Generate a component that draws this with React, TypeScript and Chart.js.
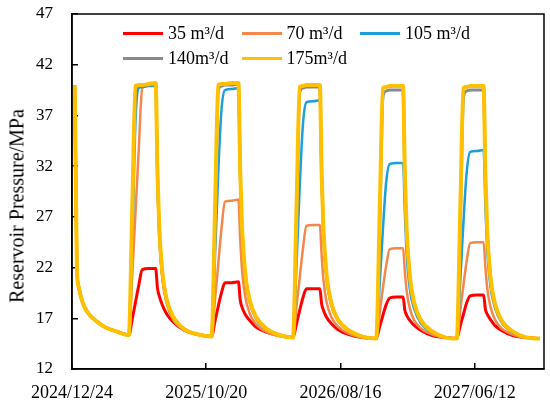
import { useEffect, useRef } from 'react'
import { Chart, registerables } from 'chart.js'

Chart.register(...registerables)

// days since 2024/12/24
const DAYS = [
  6, 9, 11, 15, 20, 28, 40, 55, 75, 100,
  127, 135, 142, 149, 157, 172, 187, 191, 195, 202, 212, 227, 252, 282,
  312, 320, 327, 334, 342, 357, 372, 376, 380, 387, 397, 412, 437, 467,
  494, 502, 509, 516, 524, 539, 554, 558, 562, 569, 579, 594, 619, 649,
  680, 688, 695, 702, 710, 725, 740, 744, 748, 755, 765, 780, 805, 835,
  860, 868, 875, 882, 890, 905, 920, 924, 928, 935, 945, 960, 985, 1015,
  1046,
]

const TICK_DAYS = [0, 300, 600, 900]
const TICK_LABELS = ['2024/12/24', '2025/10/20', '2026/08/16', '2027/06/12']

const Q35 = [
  40, 29, 21.8, 20.1, 19.1, 18.1, 17.3, 16.7, 16.1, 15.7,
  15.35, 17.0, 18.6, 20.2, 21.8, 21.9, 21.9, 20.0, 19.2, 18.3, 17.4, 16.6, 15.8, 15.4,
  15.2, 16.8, 18.2, 19.5, 20.5, 20.5, 20.6, 18.8, 18.1, 17.4, 16.8, 16.1, 15.6, 15.3,
  15.1, 16.5, 17.8, 19.0, 19.9, 19.9, 19.9, 18.4, 17.8, 17.1, 16.5, 15.9, 15.4, 15.1,
  15.0, 16.2, 17.3, 18.3, 19.0, 19.1, 19.1, 17.8, 17.3, 16.8, 16.3, 15.8, 15.3, 15.1,
  15.0, 16.3, 17.4, 18.5, 19.2, 19.3, 19.3, 17.9, 17.4, 16.9, 16.3, 15.8, 15.3, 15.1,
  15.0,
]

const Q70 = [
  40, 29, 21.8, 20.1, 19.1, 18.1, 17.3, 16.7, 16.1, 15.7,
  15.35, 21.5, 27.5, 33.5, 39.7, 40.0, 40.1, 30.8, 25.3, 20.9, 18.4, 16.8, 15.8, 15.4,
  15.2, 19.0, 22.4, 25.8, 28.5, 28.6, 28.7, 24.8, 21.8, 19.2, 17.5, 16.4, 15.6, 15.2,
  15.1, 18.2, 21.0, 23.8, 26.1, 26.2, 26.2, 23.2, 20.8, 18.6, 17.2, 16.2, 15.5, 15.1,
  15.0, 17.6, 20.0, 22.1, 23.8, 23.9, 23.9, 21.6, 19.7, 18.0, 16.8, 16.0, 15.4, 15.1,
  15.0, 17.8, 20.3, 22.6, 24.4, 24.5, 24.5, 22.0, 20.0, 18.2, 16.9, 16.0, 15.4, 15.1,
  15.0,
]

const Q105 = [
  40, 29, 21.8, 20.1, 19.1, 18.1, 17.3, 16.7, 16.1, 15.7,
  15.35, 25.0, 36.5, 39.7, 39.8, 39.9, 39.9, 31.0, 25.5, 21.1, 18.6, 16.9, 15.9, 15.4,
  15.2, 23.5, 31.5, 37.5, 39.5, 39.6, 39.7, 31.0, 25.5, 21.1, 18.6, 16.9, 15.9, 15.3,
  15.1, 22.5, 30.0, 36.0, 38.3, 38.4, 38.5, 30.5, 25.2, 20.9, 18.4, 16.8, 15.8, 15.2,
  15.0, 20.5, 25.8, 30.3, 32.2, 32.3, 32.3, 27.5, 23.4, 19.9, 17.9, 16.5, 15.6, 15.1,
  15.0, 20.8, 26.5, 31.3, 33.4, 33.5, 33.6, 28.2, 23.8, 20.2, 18.1, 16.6, 15.6, 15.1,
  15.0,
]

const Q140 = [
  40, 29, 21.8, 20.1, 19.1, 18.1, 17.3, 16.7, 16.1, 15.7,
  15.35, 27.0, 39.5, 39.9, 40.0, 40.0, 40.1, 31.3, 25.8, 21.3, 18.7, 17.0, 15.9, 15.4,
  15.2, 27.0, 39.5, 39.9, 40.0, 40.0, 40.1, 31.3, 25.8, 21.3, 18.7, 17.0, 15.9, 15.3,
  15.1, 26.8, 39.3, 39.7, 39.8, 39.8, 39.8, 31.1, 25.6, 21.2, 18.5, 16.9, 15.8, 15.2,
  15.0, 26.5, 38.8, 39.4, 39.5, 39.5, 39.5, 30.9, 25.5, 21.1, 18.4, 16.8, 15.7, 15.1,
  15.0, 26.5, 38.8, 39.4, 39.5, 39.5, 39.5, 30.9, 25.5, 21.1, 18.4, 16.8, 15.7, 15.1,
  15.0,
]

const Q175 = [
  40, 29, 21.8, 20.1, 19.1, 18.1, 17.3, 16.7, 16.1, 15.7,
  15.35, 28.5, 39.9, 40.0, 40.0, 40.1, 40.2, 31.5, 26.0, 21.5, 18.8, 17.1, 15.9, 15.4,
  15.2, 28.3, 40.0, 40.1, 40.1, 40.2, 40.2, 31.5, 26.0, 21.5, 18.8, 17.1, 15.9, 15.3,
  15.1, 28.2, 39.8, 39.9, 40.0, 40.0, 40.0, 31.3, 25.8, 21.3, 18.6, 16.9, 15.8, 15.2,
  15.0, 28.0, 39.7, 39.8, 39.9, 39.9, 39.9, 31.2, 25.7, 21.2, 18.5, 16.8, 15.7, 15.1,
  15.0, 28.0, 39.7, 39.8, 39.9, 39.9, 39.9, 31.2, 25.7, 21.2, 18.5, 16.8, 15.7, 15.1,
  15.0,
]

const SERIES = [
  { label: '35 m³/d', values: Q35, color: '#FF0000', width: 3, order: 5 },
  { label: '70 m³/d', values: Q70, color: '#F4874B', width: 2.5, order: 4 },
  { label: '105 m³/d', values: Q105, color: '#1E9FDA', width: 2.5, order: 3 },
  { label: '140m³/d', values: Q140, color: '#8A8A8A', width: 3, order: 2 },
  { label: '175m³/d', values: Q175, color: '#FFC000', width: 4, order: 1 },
]

const FONT = "'Liberation Serif', 'Times New Roman', serif"

const framePlugin = {
  id: 'frame',
  afterDraw(chart: Chart) {
    const { ctx, chartArea: a } = chart
    ctx.save()
    ctx.strokeStyle = '#000'
    ctx.lineWidth = 1.5
    ctx.strokeRect(a.left, a.top, a.right - a.left, a.bottom - a.top)
    ctx.restore()
  },
}

export default function App() {
  const canvasRef = useRef<HTMLCanvasElement>(null)
  const chartRef = useRef<Chart | null>(null)

  useEffect(() => {
    document.body.style.margin = '0'
    if (!canvasRef.current) return
    if (chartRef.current) chartRef.current.destroy()

    chartRef.current = new Chart(canvasRef.current, {
      type: 'line',
      data: {
        datasets: SERIES.map((s) => ({
          label: s.label,
          data: DAYS.map((d, i) => ({ x: d, y: s.values[i] })),
          borderColor: s.color,
          backgroundColor: s.color,
          borderWidth: s.width,
          pointRadius: 0,
          cubicInterpolationMode: 'monotone' as const,
          fill: false,
          order: s.order,
        })),
      },
      plugins: [framePlugin],
      options: {
        animation: false,
        responsive: true,
        maintainAspectRatio: false,
        layout: { padding: { top: 14, right: 6, left: 0, bottom: 0 } },
        plugins: {
          legend: { display: false },
          tooltip: { enabled: false },
        },
        scales: {
          x: {
            type: 'linear',
            min: 0,
            max: 1055,
            afterBuildTicks: (scale) => {
              scale.ticks = TICK_DAYS.map((v) => ({ value: v }))
            },
            afterFit: (scale: any) => {
              scale.height = 37
              scale.paddingLeft = 0
              scale.paddingRight = 0
            },
            grid: {
              drawOnChartArea: false,
              drawTicks: true,
              tickLength: -6,
              color: '#000',
              lineWidth: 1.5,
            },
            border: { display: true, color: '#000', width: 1.5 },
            ticks: {
              padding: 19,
              color: '#000',
              font: { family: FONT, size: 18 },
              maxRotation: 0,
              callback: (value) => TICK_LABELS[TICK_DAYS.indexOf(Number(value))] ?? '',
            },
          },
          y: {
            min: 12,
            max: 47,
            afterFit: (scale: any) => {
              scale.width = 72
              scale.paddingTop = 0
              scale.paddingBottom = 0
            },
            grid: {
              drawOnChartArea: false,
              drawTicks: true,
              tickLength: -6,
              color: '#000',
              lineWidth: 1.5,
            },
            border: { display: true, color: '#000', width: 1.5 },
            ticks: {
              stepSize: 5,
              padding: 25,
              color: '#000',
              font: { family: FONT, size: 17 },
            },
          },
        },
      },
    })

    return () => {
      if (chartRef.current) {
        chartRef.current.destroy()
        chartRef.current = null
      }
    }
  }, [])

  return (
    <div style={{ position: 'relative', width: 550, height: 406, background: '#fff' }}>
      <canvas ref={canvasRef} />

      {/* y axis title */}
      <div
        style={{
          position: 'absolute',
          left: 17,
          top: 206,
          transform: 'translate(-50%, -50%) rotate(-90deg)',
          whiteSpace: 'nowrap',
          fontFamily: FONT,
          fontSize: 20,
          color: '#000',
        }}
      >
        Reservoir Pressure/MPa
      </div>

      {/* legend inside plot */}
      <div style={{ position: 'absolute', left: 123, top: 21, width: 360 }}>
        {[SERIES.slice(0, 3), SERIES.slice(3)].map((row, r) => (
          <div key={r} style={{ display: 'flex', height: 25 }}>
            {row.map((s) => (
              <div key={s.label} style={{ display: 'flex', alignItems: 'center', width: 118.5 }}>
                <span
                  style={{
                    display: 'inline-block',
                    width: 40,
                    height: 3,
                    background: s.color,
                    marginRight: 5,
                  }}
                />
                <span style={{ fontFamily: FONT, fontSize: 18, color: '#000', whiteSpace: 'nowrap' }}>
                  {s.label}
                </span>
              </div>
            ))}
          </div>
        ))}
      </div>
    </div>
  )
}
